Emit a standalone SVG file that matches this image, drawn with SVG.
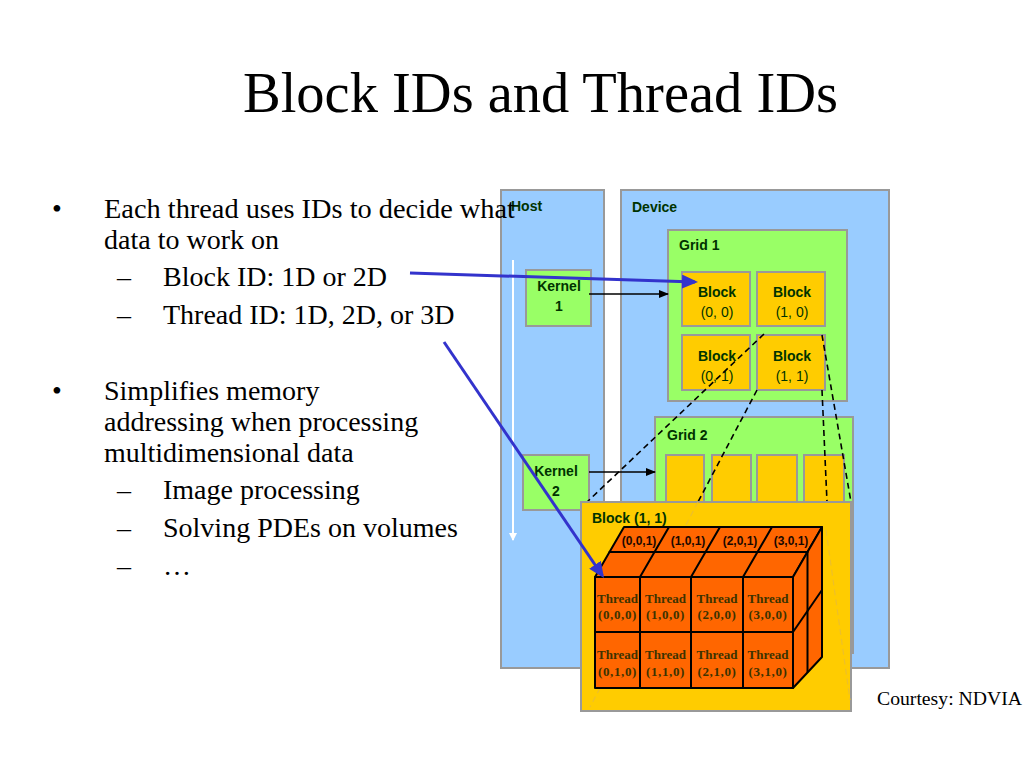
<svg xmlns="http://www.w3.org/2000/svg" width="1024" height="768" viewBox="0 0 1024 768">
<style>
.serif{font-family:"Liberation Serif","Times New Roman",serif;fill:#000}
.title{font-size:56px}
.body{font-size:28px}
.lbl{font-family:"Liberation Sans",Arial,sans-serif;font-size:14px;fill:#003300;font-weight:bold}
.lbln{font-family:"Liberation Sans",Arial,sans-serif;font-size:14px;fill:#003300}
.box{stroke:#999999;stroke-width:2}
.blue{fill:#99CCFF}
.green{fill:#99FF66}
.gold{fill:#FFCC00}
.cell{fill:#FF6600;stroke:#000;stroke-width:2;stroke-linejoin:round}
.edge{stroke:#000;stroke-width:2;fill:none;stroke-linecap:round}
.dash{stroke:#000;stroke-width:1.6;stroke-dasharray:6 4;fill:none}
.faint{stroke:#EDBF2A;stroke-width:1.2;stroke-dasharray:6 4;fill:none}
.thr{font-family:"Liberation Serif","Times New Roman",serif;font-weight:bold;font-size:13px;fill:#3d3300;text-anchor:middle}
.top{font-family:"Liberation Sans",Arial,sans-serif;font-weight:bold;font-size:12px;fill:#1a0800;text-anchor:middle}
.mid{text-anchor:middle}
</style>
<defs>
<marker id="ab" markerUnits="userSpaceOnUse" markerWidth="17" markerHeight="14" refX="13" refY="7" orient="auto"><path d="M0,0 L16,7 L0,14 z" fill="#3333CC"/></marker>
<marker id="ak" markerUnits="userSpaceOnUse" markerWidth="10" markerHeight="8" refX="9" refY="4" orient="auto"><path d="M0,0 L10,4 L0,8 z" fill="#000"/></marker>
<marker id="aw" markerUnits="userSpaceOnUse" markerWidth="8" markerHeight="8" refX="7" refY="4" orient="auto"><path d="M0,0 L8,4 L0,8 z" fill="#FFFFFF"/></marker>
</defs>
<rect width="1024" height="768" fill="#FFFFFF"/>

<text class="serif title" x="243" y="112" textLength="595" lengthAdjust="spacingAndGlyphs">Block IDs and Thread IDs</text>

<g id="host">
<rect class="box blue" x="501" y="190" width="103" height="478"/>
<text class="lbl" x="511" y="211">Host</text>
<line x1="513" y1="260" x2="513" y2="540" stroke="#FFFFFF" stroke-width="2" marker-end="url(#aw)"/>
</g>
<g id="device">
<rect class="box blue" x="621" y="190" width="268" height="478"/>
<text class="lbl" x="632" y="212">Device</text>
</g>
<g id="kernel1">
<rect class="box green" x="526" y="270" width="65" height="56"/>
<text class="lbl mid" x="559" y="291">Kernel</text>
<text class="lbl mid" x="559" y="311">1</text>
</g>
<g id="kernel2">
<rect class="box green" x="523" y="455" width="66" height="55"/>
<text class="lbl mid" x="556" y="476">Kernel</text>
<text class="lbl mid" x="556" y="496">2</text>
</g>
<g id="grid1">
<rect class="box green" x="668" y="230" width="179" height="171"/>
<text class="lbl" x="679" y="250">Grid 1</text>
</g>
<g id="block00">
<rect class="box gold" x="682" y="272" width="68" height="54"/>
<text class="lbl mid" x="717" y="297">Block</text>
<text class="lbln mid" x="717" y="317">(0, 0)</text>
</g>
<g id="block10">
<rect class="box gold" x="757" y="272" width="68" height="54"/>
<text class="lbl mid" x="792" y="297">Block</text>
<text class="lbln mid" x="792" y="317">(1, 0)</text>
</g>
<g id="block01">
<rect class="box gold" x="682" y="335" width="68" height="55"/>
<text class="lbl mid" x="717" y="361">Block</text>
<text class="lbln mid" x="717" y="381">(0, 1)</text>
</g>
<g id="block11">
<rect class="box gold" x="757" y="335" width="68" height="55"/>
<text class="lbl mid" x="792" y="361">Block</text>
<text class="lbln mid" x="792" y="381">(1, 1)</text>
</g>
<g id="grid2">
<rect class="box green" x="655" y="417" width="198" height="236"/>
<text class="lbl" x="667" y="440">Grid 2</text>
<rect class="box gold" x="666" y="455" width="38" height="60"/>
<rect class="box gold" x="712" y="455" width="39" height="60"/>
<rect class="box gold" x="757" y="455" width="40" height="60"/>
<rect class="box gold" x="804" y="455" width="40" height="60"/>
</g>

<g id="connectors">
<line class="dash" x1="764" y1="334" x2="587" y2="502"/>
<line class="dash" x1="757" y1="390" x2="698" y2="502"/>
<line class="dash" x1="822" y1="335" x2="851" y2="502"/>
<line class="dash" x1="822" y1="390" x2="827" y2="502"/>
<line x1="589" y1="294" x2="668" y2="294" stroke="#000" stroke-width="1.5" marker-end="url(#ak)"/>
<line x1="589" y1="472" x2="655" y2="472" stroke="#000" stroke-width="1.5" marker-end="url(#ak)"/>
</g>

<g id="block11-detail">
<rect class="box gold" x="581" y="502" width="270" height="209"/>
<line class="faint" x1="698" y1="502" x2="590" y2="707"/>
<line class="faint" x1="826" y1="530" x2="850" y2="700"/>
<text class="lbl" x="592" y="523">Block (1, 1)</text>
<polygon class="cell" points="595,577 624,527 822,527 793,577"/>
<polygon class="cell" points="793,577 822,527 822,657 793,688"/>
<rect class="cell" x="595" y="577" width="198" height="111"/>
<g class="edge">
<line x1="609.5" y1="552" x2="807.5" y2="552"/>
<line x1="640" y1="577" x2="669" y2="527"/>
<line x1="691" y1="577" x2="720" y2="527"/>
<line x1="743" y1="577" x2="772" y2="527"/>
<line x1="807.5" y1="552" x2="807.5" y2="672"/>
<line x1="793" y1="632" x2="822" y2="590"/>
<line x1="640" y1="577" x2="640" y2="688"/>
<line x1="691" y1="577" x2="691" y2="688"/>
<line x1="743" y1="577" x2="743" y2="688"/>
<line x1="595" y1="632" x2="793" y2="632"/>
</g>
<text class="top" x="639" y="545">(0,0,1)</text>
<text class="top" x="688" y="545">(1,0,1)</text>
<text class="top" x="740" y="545">(2,0,1)</text>
<text class="top" x="791" y="545">(3,0,1)</text>
<text class="thr" x="617.5" y="603">Thread</text>
<text class="thr" x="617.5" y="619" letter-spacing="0.6">(0,0,0)</text>
<text class="thr" x="665.5" y="603">Thread</text>
<text class="thr" x="665.5" y="619" letter-spacing="0.6">(1,0,0)</text>
<text class="thr" x="717" y="603">Thread</text>
<text class="thr" x="717" y="619" letter-spacing="0.6">(2,0,0)</text>
<text class="thr" x="768" y="603">Thread</text>
<text class="thr" x="768" y="619" letter-spacing="0.6">(3,0,0)</text>
<text class="thr" x="617.5" y="659">Thread</text>
<text class="thr" x="617.5" y="676" letter-spacing="0.6">(0,1,0)</text>
<text class="thr" x="665.5" y="659">Thread</text>
<text class="thr" x="665.5" y="676" letter-spacing="0.6">(1,1,0)</text>
<text class="thr" x="717" y="659">Thread</text>
<text class="thr" x="717" y="676" letter-spacing="0.6">(2,1,0)</text>
<text class="thr" x="768" y="659">Thread</text>
<text class="thr" x="768" y="676" letter-spacing="0.6">(3,1,0)</text>
</g>

<g id="bullets" class="serif body">
<text x="52" y="218">•</text>
<text x="104" y="218" textLength="411" lengthAdjust="spacingAndGlyphs">Each thread uses IDs to decide what</text>
<text x="104" y="249">data to work on</text>
<text x="117" y="286">–</text>
<text x="163" y="286">Block ID: 1D or 2D</text>
<text x="117" y="324">–</text>
<text x="163" y="324">Thread ID: 1D, 2D, or 3D</text>
<text x="52" y="400">•</text>
<text x="104" y="400">Simplifies memory</text>
<text x="104" y="431">addressing when processing</text>
<text x="104" y="462">multidimensional data</text>
<text x="117" y="499">–</text>
<text x="163" y="499">Image processing</text>
<text x="117" y="537">–</text>
<text x="163" y="537">Solving PDEs on volumes</text>
<text x="117" y="575">–</text>
<text x="163" y="575">…</text>
</g>

<g id="pointers">
<line x1="410" y1="273" x2="695" y2="282" stroke="#3333CC" stroke-width="3" marker-end="url(#ab)"/>
<line x1="444" y1="342" x2="602.3" y2="575.5" stroke="#3333CC" stroke-width="3" marker-end="url(#ab)"/>
</g>

<text class="serif" x="877" y="705" font-size="19" textLength="145" lengthAdjust="spacingAndGlyphs">Courtesy: NDVIA</text>
</svg>
